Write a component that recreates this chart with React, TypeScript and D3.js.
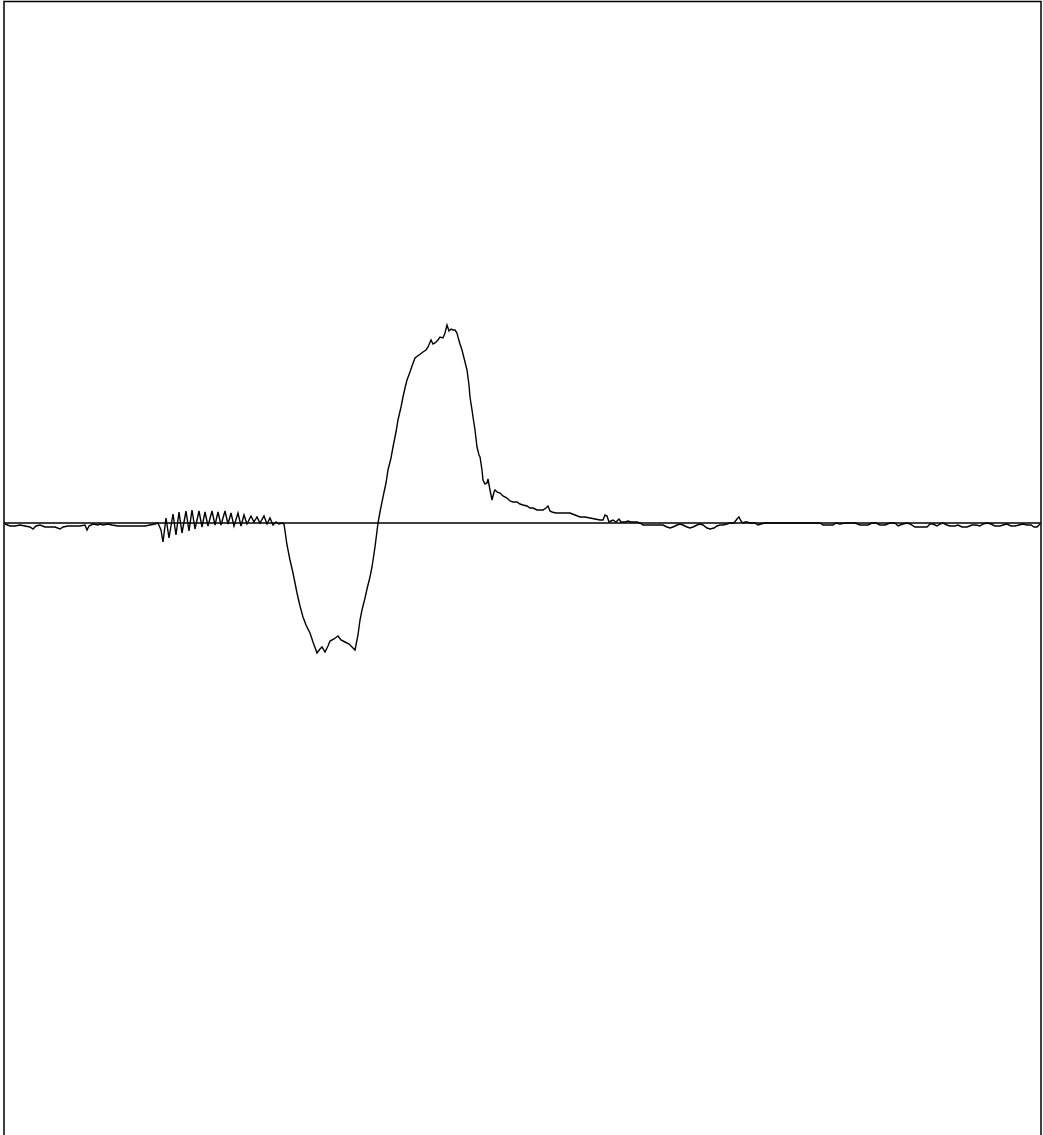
import React from "react";
import * as d3 from "d3";

const time = [
  1, 6, 11, 16, 21, 26, 29, 32, 36, 41, 46, 51, 56, 59, 64, 71, 76, 81, 83, 85, 89, 94, 96, 99, 104, 108, 114, 121, 128, 134, 141, 146, 151,
  154, 157, 159, 162, 165, 169, 172, 175, 178, 182, 185, 188, 191, 195, 198, 201, 204, 208, 211, 214, 217, 221, 224, 227, 230, 234, 237, 240,
  243, 247, 250, 253, 256, 260, 263, 266, 269, 272, 275, 278, 280,
  283, 286, 289, 293, 296, 299, 302, 306, 309, 313, 316, 318, 321, 324, 326, 330, 334, 337, 341, 345, 348, 351, 354, 356, 358, 361, 363, 366,
  368, 371, 374, 376, 379, 382, 384, 387, 389, 392, 394, 397, 399, 401, 403, 406, 408, 411, 415, 419, 422, 424, 427, 429, 431, 434, 436, 439,
  441, 443, 445, 447, 449, 451, 453, 454, 456, 458, 460, 463, 465, 466, 468, 469, 471, 473, 475, 476, 478, 479, 481, 483, 484, 486, 488, 490,
  491, 493, 496, 499, 503, 506, 509, 513, 516, 519, 523, 526, 529, 533, 536, 539, 542, 544, 546, 548, 552, 556, 561, 566, 571, 576, 581, 586,
  591, 596, 599, 601, 603, 605, 607, 609, 612, 615, 617, 621, 624, 627, 633, 636, 639, 644, 649, 654, 659, 663, 666, 669, 673, 676, 679, 683,
  686, 689, 693, 696, 699, 703, 706, 710, 713, 716, 719, 723, 726, 730, 733, 735, 737, 739, 741, 743, 746, 751, 754, 757, 761, 786, 816, 819,
  824, 829, 832, 836, 841, 846, 851, 856, 860, 864, 868, 872, 876, 881, 886, 891, 894, 896, 899, 903, 906, 911, 916, 919, 923, 926, 929, 933,
  936, 939, 943, 946, 951, 954, 958, 963, 968, 972, 976, 979, 983, 987, 991, 996, 999, 1003, 1007, 1011, 1015, 1019, 1023, 1027, 1030, 1033, 1036,
];

const amplitude = [
  -1, -3, -3, -2, -3, -4, -6, -3, -2, -4, -4, -4, -6, -4, -3, -3, -3, -2, -7, -3, -1, -2, -1, -2, -1, -2, -3, -3, -3, -3, -3, -2, -1,
  0, -7, -19, 5, -15, 9, -12, 11, -10, 12, -8, 13, -6, 12, -4, 11, -3, 12, -2, 11, -2, 12, -1, 10, -3, 10, -3, 8,
  -1, 7, 1, 6, 0, 7, -1, 5, -2, 1, -1, 0, -1,
  -22, -37, -50, -70, -83, -94, -102, -110, -119, -130, -126, -124, -129, -123, -118, -116, -113, -117, -119, -121, -124, -127, -112, -97, -87, -75, -66, -54,
  -44, -24, 0, 11, 26, 40, 53, 65, 76, 91, 103, 116, 126, 135, 143, 151, 157, 165, 168, 171, 173, 176, 183, 179, 180, 183, 186, 185,
  190, 198, 192, 194, 193, 193, 190, 186, 179, 173, 165, 153, 138, 126, 113, 106, 93, 76, 68, 66, 53, 43, 39, 40, 44, 33, 23, 31,
  33, 31, 30, 27, 25, 22, 21, 21, 19, 18, 17, 15, 15, 13, 13, 13, 15, 17, 12, 11, 10, 10, 10, 10, 8, 6, 6, 5,
  4, 3, 3, 8, 7, 1, 2, 3, 1, 4, 1, 1, 2, 1, 1, 0, -2, -2, -2, -2, -2, -4, -5, -4, -2, -1, -2, -4,
  -5, -4, -2, -1, -2, -5, -6, -5, -3, -2, -2, -1, 0, 0, 4, 6, 2, 0, 1, 1, 0, 0, -2, -1, 0, 0, 0, -2,
  -2, -2, 0, -1, 0, 0, 0, -2, -2, -2, 0, 0, -2, -2, 0, 0, -3, -2, -1, 0, -1, -4, -4, -4, -4, -1, -1, -3,
  -1, 0, -2, -3, -3, -2, -4, -4, -2, -2, -3, -1, 0, -1, -3, -3, -2, -1, -3, -3, -2, -1, -2, -2, -4, -4, -1, 0,
];

const W = 1043;
const H = 1135;

export default function App() {
  const x = d3.scaleLinear().domain([0, 1037]).range([4, 1041]);
  const y = d3.scaleLinear().domain([-612, 521]).range([1135, 2]);
  const n = Math.min(time.length, amplitude.length);
  const pts: [number, number][] = time.slice(0, n).map((t, i) => [t, amplitude[i]]);
  const line = d3
    .line<[number, number]>()
    .x((d) => x(d[0]))
    .y((d) => y(d[1]));
  return (
    <svg
      width={W}
      height={H}
      style={{ position: "absolute", left: 0, top: 0, background: "#fff" }}
    >
      <rect x={0} y={0} width={W} height={H} fill="#fff" />
      <rect
        x={4}
        y={1.5}
        width={1037}
        height={H + 20}
        fill="none"
        stroke="#000"
        strokeWidth={1.5}
      />
      <line
        x1={x(0)}
        x2={x(1037)}
        y1={y(0)}
        y2={y(0)}
        stroke="#000"
        strokeWidth={1.4}
      />
      <path
        d={line(pts) ?? ""}
        fill="none"
        stroke="#000"
        strokeWidth={1.4}
        strokeLinejoin="miter"
      />
    </svg>
  );
}
